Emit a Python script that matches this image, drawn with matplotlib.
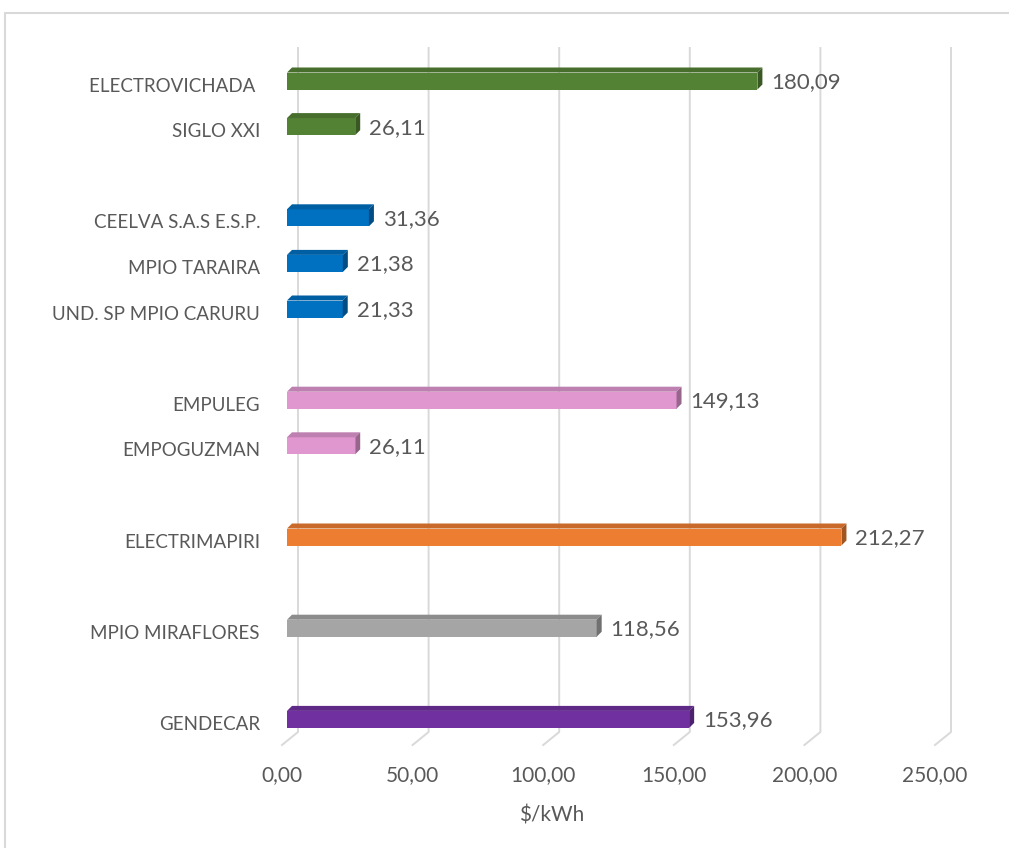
import matplotlib
matplotlib.use("Agg")
import matplotlib.pyplot as plt
import matplotlib.colors as mcolors
from matplotlib.patches import Polygon, Rectangle

# data (blank entries are the gaps between groups)
categories = ["ELECTROVICHADA ", "SIGLO XXI", "",
              "CEELVA S.A.S E.S.P.", "MPIO TARAIRA", "UND. SP MPIO CARURU", "",
              "EMPULEG", "EMPOGUZMAN", "",
              "ELECTRIMAPIRI", "",
              "MPIO MIRAFLORES", "",
              "GENDECAR"]
values = [180.09, 26.11, None,
          31.36, 21.38, 21.33, None,
          149.13, 26.11, None,
          212.27, None,
          118.56, None,
          153.96]
bar_colors = ["#548235", "#548235", None,
              "#0070C0", "#0070C0", "#0070C0", None,
              "#E096CF", "#E096CF", None,
              "#ED7D31", None,
              "#A5A5A5", None,
              "#7030A0"]
xticks = [0, 50, 100, 150, 200, 250]

W, H = 1009, 848
fig = plt.figure(figsize=(W / 100, H / 100), dpi=100)

# axes box in pixels
ax_left, ax_right = 287, 940
ax_top, ax_bot = 48, 732
ax = fig.add_axes([ax_left / W, 1 - ax_bot / H, (ax_right - ax_left) / W, (ax_bot - ax_top) / H])
slot_px = 45.6
y_top = -(81 - ax_top) / slot_px
y_bot = y_top + (ax_bot - ax_top) / slot_px
ax.set_xlim(0, 250)
ax.set_ylim(y_bot, y_top)
ax.axis("off")

ux = 250 / (ax_right - ax_left)   # data units per pixel (x)
uy = 1 / slot_px                  # data units per pixel (y)

font = "Lato"
txt_col = "#595959"
grid_col = "#D9D9D9"

# back gridlines with floor diagonals
for v in xticks:
    xb = v + 11 * ux
    xf = v - 5 * ux
    ax.plot([xb, xb, xf], [y_top, y_bot, y_bot + 13 * uy], color=grid_col,
            lw=1.4, clip_on=False, zorder=1)
    ax.text(xf, y_bot + 43 * uy, f"{v:.2f}".replace(".", ","), ha="center", va="center",
            fontsize=15, color=txt_col, family=font, clip_on=False)

ax.text((552 - ax_left) * ux, y_bot + 83 * uy, "$/kWh", ha="center", va="center",
        fontsize=15, color=txt_col, family=font, clip_on=False)

# 3d-looking bars
bh = 17 * uy
dx, dy = 5 * ux, -5 * uy
for i, (cat, val, col) in enumerate(zip(categories, values, bar_colors)):
    if val is None:
        continue
    c = mcolors.to_rgb(col)
    top_c = tuple(k * 0.85 for k in c)
    side_c = tuple(k * 0.68 for k in c)
    y0, y1 = i - bh / 2, i + bh / 2
    ax.barh(i, val, height=bh, color=col, zorder=3)
    ax.add_patch(Polygon([(0, y0), (dx, y0 + dy), (val + dx, y0 + dy), (val, y0)],
                         closed=True, facecolor=top_c, edgecolor="none", zorder=3))
    ax.add_patch(Polygon([(val, y0), (val + dx, y0 + dy), (val + dx, y1 + dy), (val, y1)],
                         closed=True, facecolor=side_c, edgecolor="none", zorder=3))
    ax.text(val + 14 * ux, i + 1 * uy, f"{val:.2f}".replace(".", ","), ha="left", va="center",
            fontsize=16, color=txt_col, family=font)
    ax.text(-27 * ux, i + 5 * uy, cat, ha="right", va="center",
            fontsize=13.5, color=txt_col, family=font, clip_on=False)

# chart border
fig.patches.append(Rectangle((5 / W, -0.1), 1.2, 1 - 13 / H + 0.1, transform=fig.transFigure,
                             fill=False, edgecolor=grid_col, lw=1.5))

fig.savefig("out.png", dpi=100, facecolor="white")
